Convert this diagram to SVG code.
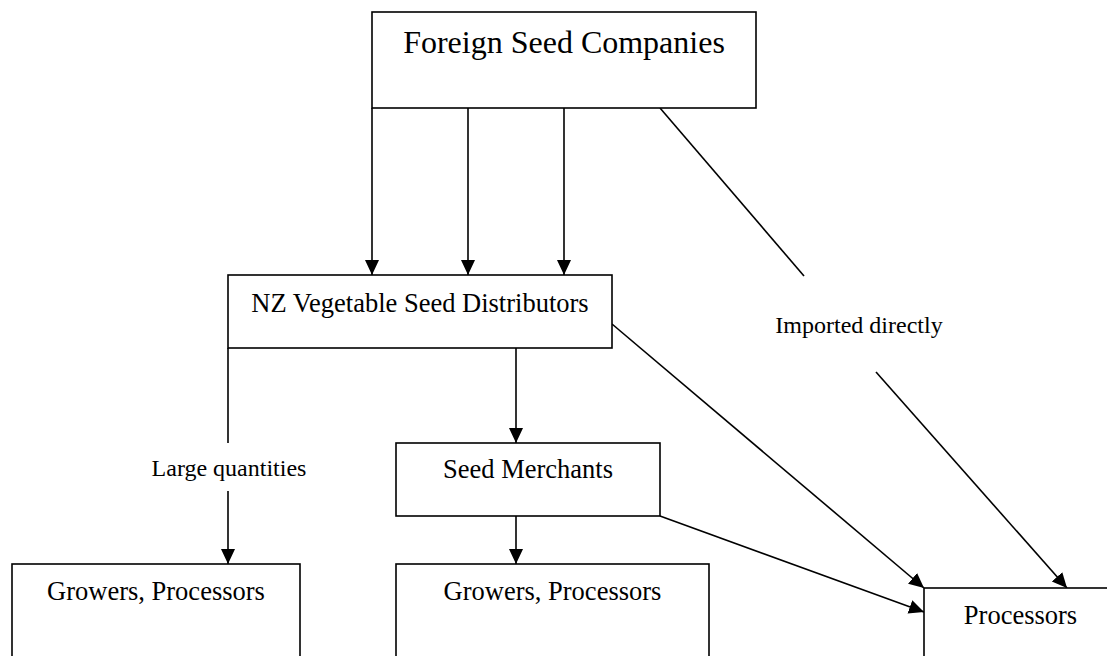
<svg xmlns="http://www.w3.org/2000/svg" width="1107" height="656" viewBox="0 0 1107 656">
<style>
.box{fill:#fff;stroke:#000;stroke-width:1.6}
.ln{stroke:#000;stroke-width:1.6;fill:none}
.t{font-family:"Liberation Serif","Times New Roman",serif;fill:#000;text-anchor:middle}
.big{font-size:32px}
.mid{font-size:26.5px}
.lab{font-size:24px}
</style>
<defs>
<marker id="ah" markerUnits="userSpaceOnUse" markerWidth="16" markerHeight="15" refX="15" refY="7" orient="auto">
<path d="M0,0 L15,7 L0,14 Z" fill="#000"/>
</marker>
</defs>
<rect width="1107" height="656" fill="#fff"/>
<g id="connectors">
<line class="ln" x1="372" y1="108" x2="372" y2="275" marker-end="url(#ah)"/>
<line class="ln" x1="468" y1="108" x2="468" y2="275" marker-end="url(#ah)"/>
<line class="ln" x1="564" y1="108" x2="564" y2="275" marker-end="url(#ah)"/>
<line class="ln" x1="660" y1="108" x2="804" y2="276"/>
<line class="ln" x1="876" y1="372" x2="1067" y2="588" marker-end="url(#ah)"/>
<line class="ln" x1="612" y1="324" x2="924" y2="588" marker-end="url(#ah)"/>
<line class="ln" x1="660" y1="516" x2="924" y2="612" marker-end="url(#ah)"/>
<line class="ln" x1="516" y1="348" x2="516" y2="443" marker-end="url(#ah)"/>
<line class="ln" x1="516" y1="516" x2="516" y2="564" marker-end="url(#ah)"/>
<line class="ln" x1="228" y1="348" x2="228" y2="443"/>
<line class="ln" x1="228" y1="491" x2="228" y2="564" marker-end="url(#ah)"/>
<text class="t lab" x="229" y="476">Large quantities</text>
<text class="t lab" x="859" y="333">Imported directly</text>
</g>
<g id="foreign">
<rect class="box" x="372" y="12" width="384" height="96"/>
<text class="t big" x="564" y="53">Foreign Seed Companies</text>
</g>
<g id="nz">
<rect class="box" x="228" y="275" width="384" height="73"/>
<text class="t mid" x="420" y="312">NZ Vegetable Seed Distributors</text>
</g>
<g id="merchants">
<rect class="box" x="396" y="443" width="264" height="73"/>
<text class="t mid" x="528" y="478">Seed Merchants</text>
</g>
<g id="growers1">
<rect class="box" x="12" y="564" width="288" height="120"/>
<text class="t mid" x="156" y="600">Growers, Processors</text>
</g>
<g id="growers2">
<rect class="box" x="396" y="564" width="313" height="120"/>
<text class="t mid" x="552.5" y="600">Growers, Processors</text>
</g>
<g id="processors">
<rect class="box" x="924" y="588" width="200" height="100"/>
<text class="t mid" x="1020.5" y="624">Processors</text>
</g>
</svg>
